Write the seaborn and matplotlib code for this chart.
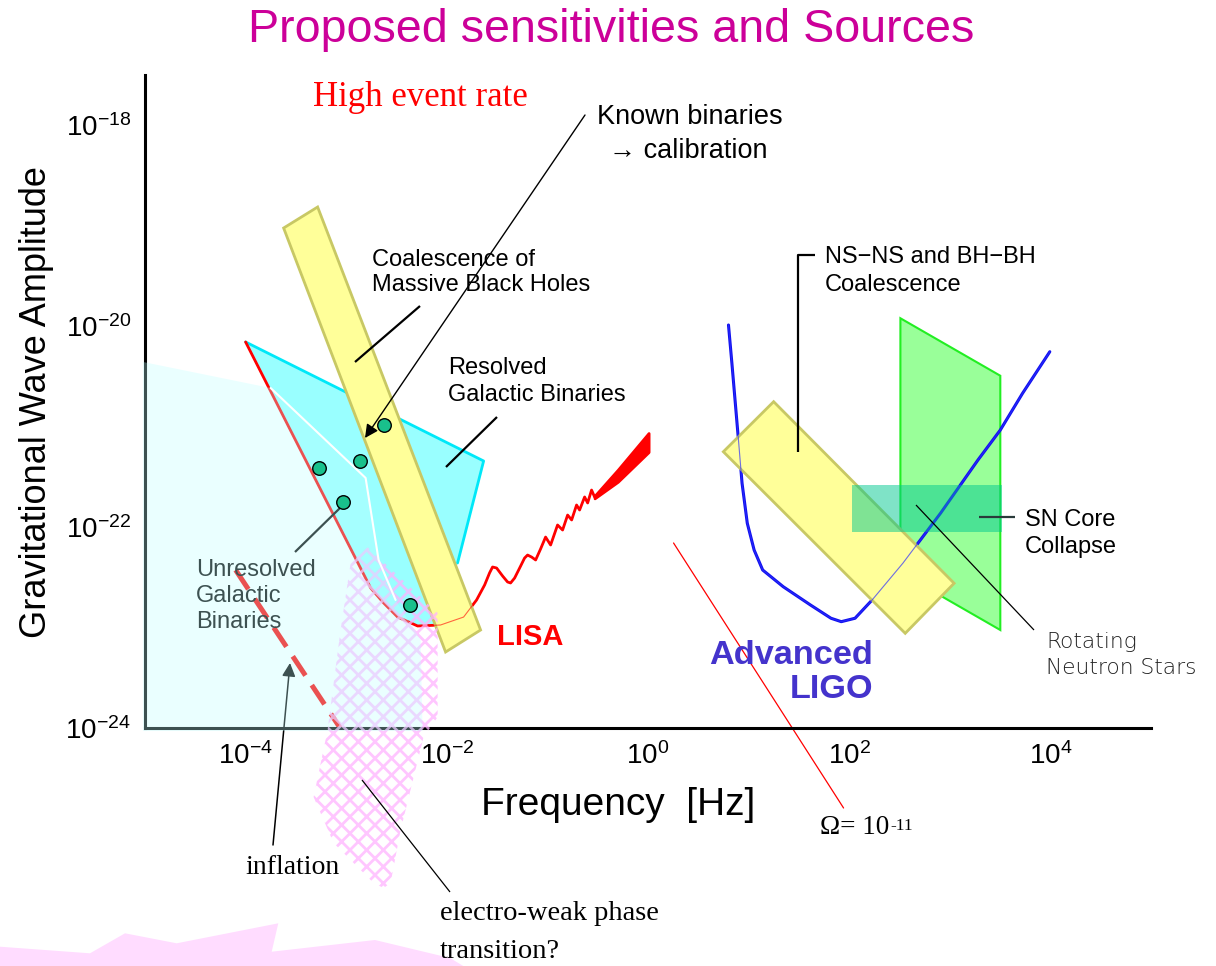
import numpy as np
import pandas as pd
import matplotlib
matplotlib.use("Agg")
import matplotlib.pyplot as plt
import matplotlib.transforms as mtransforms
from matplotlib.patches import Polygon
import seaborn as sns

# ---------------------------------------------------------------
# Values are log10(frequency / Hz) and log10(strain amplitude)
# ---------------------------------------------------------------
# LISA sensitivity curve (resolved wiggles up to ~0.3 Hz)
lisa_logf = [-4.000, -2.757, -2.628, -2.489, -2.290, -2.062, -1.833, -1.704,
             -1.624, -1.575, -1.545, -1.505, -1.445, -1.396, -1.366, -1.326,
             -1.266, -1.227, -1.197, -1.157, -1.117, -1.068, -1.018, -0.968,
             -0.899, -0.849, -0.799, -0.759, -0.710, -0.680, -0.630, -0.600,
             -0.561, -0.531]
lisa_logh = [-20.159, -22.607, -22.756, -22.896, -22.985, -22.975, -22.896, -22.726,
             -22.577, -22.457, -22.398, -22.408, -22.488, -22.547, -22.557, -22.508,
             -22.388, -22.309, -22.279, -22.299, -22.328, -22.219, -22.100, -22.179,
             -21.980, -22.030, -21.881, -21.930, -21.781, -21.831, -21.701, -21.761,
             -21.632, -21.701]
# unresolved dense wiggles near 1 Hz, shown as an envelope
lisa_env_logf = [-0.531, -0.300, 0.006]
lisa_env_upper = [-21.690, -21.430, -21.065]
lisa_env_lower = [-21.715, -21.550, -21.254]

# Advanced LIGO sensitivity curve
ligo_logf = [0.800, 0.834, 0.868, 0.902, 0.935, 0.987, 1.055, 1.140, 1.344, 1.615,
             1.819, 1.921, 2.058, 2.228, 2.533, 2.907, 3.280, 3.502, 3.723, 3.994]
ligo_logh = [-19.990, -20.371, -20.769, -21.167, -21.565, -21.963, -22.229, -22.428,
             -22.594, -22.776, -22.908, -22.942, -22.908, -22.726, -22.361, -21.864,
             -21.333, -21.035, -20.670, -20.256]

# Source regions (polygon corners)
resolved_logf = [-4.000, -1.634, -1.893, -1.982, -2.062, -2.290, -2.489, -2.628, -2.757]
resolved_logh = [-20.159, -21.343, -22.358, -22.776, -22.975, -22.985, -22.896, -22.756, -22.607]
resolved_edge_logf = [-4.000, -1.634, -1.893]
resolved_edge_logh = [-20.159, -21.343, -22.358]

unresolved_logf = [-5.02, -3.751, -2.807, -2.678, -2.509, -2.260, -2.241, -5.02]
unresolved_logh = [-20.358, -20.617, -21.512, -22.328, -22.726, -23.124, -24.03, -24.03]
unresolved_edge_logf = [-3.751, -2.807, -2.678, -2.509]
unresolved_edge_logh = [-20.617, -21.512, -22.328, -22.726]

mbh_logf = [-3.622, -3.284, -1.664, -2.012]
mbh_logh = [-19.025, -18.816, -23.025, -23.244]

nsbh_logf = [0.749, 1.249, 3.043, 2.557]
nsbh_logh = [-21.251, -20.753, -22.560, -23.058]

rot_ns_logf = [2.509, 3.502, 3.502, 2.509]
rot_ns_logh = [-19.923, -20.495, -23.025, -22.454]

sn_logf = [2.024, 3.519]
sn_logh = [-22.047, -21.582]

ew_logf = [-2.787, -2.091, -2.091, -2.231, -2.459, -2.559, -2.628, -2.728, -3.125,
           -3.324, -3.185, -3.056, -2.956]
ew_logh = [-22.201, -22.856, -23.891, -24.090, -25.015, -25.542, -25.592, -25.542,
           -25.144, -24.687, -24.020, -23.025, -22.358]

# known (verification) binaries
known_logf = [-3.274, -3.036, -2.867, -2.628, -2.370]
known_logh = [-21.413, -21.751, -21.343, -20.985, -22.776]

# inflation background and the Omega = 1e-11 line
inflation_logf = [-4.099, -3.06]
inflation_logh = [-22.428, -24.0]
omega_logf = [0.254, 1.944]
omega_logh = [-22.159, -24.796]

# axis ticks
xtick_exp = [-4, -3, -2, -1, 0, 1, 2, 3, 4]
xtick_labels = [r"$10^{-4}$", "", r"$10^{-2}$", "", r"$10^{0}$", "", r"$10^{2}$", "", r"$10^{4}$"]
ytick_exp = [-24, -23, -22, -21, -20, -19, -18]
ytick_labels = [r"$10^{-24}$", "", r"$10^{-22}$", "", r"$10^{-20}$", "", r"$10^{-18}$"]


def pts(lf, lh):
    return np.column_stack([10.0 ** np.asarray(lf), 10.0 ** np.asarray(lh)])


sns.set_theme(style="white")
plt.rcParams.update({
    "font.family": ["Liberation Sans", "DejaVu Sans"],
    "mathtext.fontset": "custom",
    "mathtext.rm": "Liberation Sans",
    "mathtext.it": "Liberation Sans:italic",
    "mathtext.bf": "Liberation Sans:bold",
    "hatch.linewidth": 2.0,
    "text.color": "black",
    "axes.labelcolor": "black",
    "xtick.color": "black",
    "ytick.color": "black",
})

W, H = 1216, 966
fig = plt.figure(figsize=(W / 100, H / 100), dpi=100)
fig.patch.set_facecolor("white")
ax = fig.add_axes([145 / W, (H - 728) / H, 1006 / W, 653.25 / H])
ax.set_facecolor("white")
ax.set_xscale("log")
ax.set_yscale("log")
ax.set_xlim(1e-5, 1e5)
ax.set_ylim(1e-24, 10 ** -17.5)

# pixel-based transform (origin top-left) for labels and leader lines
PX = mtransforms.Affine2D().scale(1 / W, -1 / H).translate(0, 1) + fig.transFigure

SERIF = ["Liberation Serif", "DejaVu Serif"]


def note(x, y, s, **kw):
    kw.setdefault("va", "center")
    kw.setdefault("ha", "left")
    kw.setdefault("zorder", 5)
    kw.setdefault("color", "black")
    return ax.text(x, y, s, transform=PX, clip_on=False, **kw)


def leader(xs, ys, **kw):
    kw.setdefault("color", "black")
    kw.setdefault("lw", 1.5)
    kw.setdefault("zorder", 4)
    kw.setdefault("solid_capstyle", "butt")
    ax.plot(xs, ys, transform=PX, clip_on=False, **kw)


# ---------------- low-frequency (LISA) side ----------------
ax.add_patch(Polygon(pts(resolved_logf, resolved_logh), closed=True,
                     fc=(0.0, 1.0, 1.0, 0.4), lw=0, zorder=1))
ax.plot(*pts(resolved_edge_logf, resolved_edge_logh).T, color="#00e8f8", lw=2, zorder=1.2)

lisa = pd.DataFrame({"f": 10.0 ** np.array(lisa_logf), "h": 10.0 ** np.array(lisa_logh)})
sns.lineplot(data=lisa, x="f", y="h", sort=False, estimator=None, color="red",
             lw=2, ax=ax, zorder=1.5)
ax.fill_between(10.0 ** np.array(lisa_env_logf), 10.0 ** np.array(lisa_env_lower),
                10.0 ** np.array(lisa_env_upper), color="red", lw=2, zorder=1.5)

ax.add_patch(Polygon(pts(mbh_logf, mbh_logh), closed=True, fc="#ffff99",
                     ec="#c8c864", lw=2, zorder=1.8))
sns.lineplot(data=lisa, x="f", y="h", sort=False, estimator=None, color="red",
             lw=0.8, alpha=0.6, ax=ax, zorder=2.0)

# inflation background
ax.plot(10.0 ** np.array(inflation_logf), 10.0 ** np.array(inflation_logh),
        color="red", lw=3.6, dashes=(4.6, 2.3), solid_capstyle="butt",
        dash_capstyle="butt", zorder=2.2)

# ---------------- high-frequency (LIGO) side ----------------
ax.add_patch(Polygon(pts(rot_ns_logf, rot_ns_logh), closed=True, fc="#99ff99",
                     ec="#22ee22", lw=1.5, zorder=1))
ligo = pd.DataFrame({"f": 10.0 ** np.array(ligo_logf), "h": 10.0 ** np.array(ligo_logh)})
sns.lineplot(data=ligo, x="f", y="h", sort=False, estimator=None, color="#1010ee",
             lw=2.2, ax=ax, zorder=1.5)
ax.add_patch(Polygon(pts(nsbh_logf, nsbh_logh), closed=True, fc="#ffff99",
                     ec="#c8c864", lw=2, zorder=1.8))
ax.fill_between(10.0 ** np.array(sn_logf), 10.0 ** sn_logh[0], 10.0 ** sn_logh[1],
                color="#00c890", alpha=0.5, lw=0, zorder=1.9)
sns.lineplot(data=ligo, x="f", y="h", sort=False, estimator=None, color="#3030ff",
             lw=0.8, alpha=0.7, ax=ax, zorder=2.0)

ax.plot(10.0 ** np.array(omega_logf), 10.0 ** np.array(omega_logh), color="red",
        lw=0.9, clip_on=False, zorder=2.2)

# ---------------- axes styling ----------------
ax.set_xticks([10.0 ** e for e in xtick_exp], labels=xtick_labels)
ax.set_yticks([10.0 ** e for e in ytick_exp], labels=ytick_labels)
ax.xaxis.set_minor_locator(matplotlib.ticker.NullLocator())
ax.yaxis.set_minor_locator(matplotlib.ticker.NullLocator())
ax.tick_params(direction="in", length=13, width=2.2, pad=10, labelsize=20,
               colors="black")
ax.set_axisbelow(False)
for side in ["top", "right"]:
    ax.spines[side].set_visible(False)
for side in ["left", "bottom"]:
    ax.spines[side].set_linewidth(2.2)
    ax.spines[side].set_color("black")

ax.set_xlabel("Frequency  [Hz]", fontsize=28, color="black", va="center")
ax.xaxis.set_label_coords((618.5 - 145) / 1006, (728 - 805) / 653.25)
ax.set_ylabel("Gravitational Wave Amplitude", fontsize=26, color="black", va="center")
ax.yaxis.set_label_coords((37 - 145) / 1006, (728 - 402) / 653.25)

# ---------------- annotations under the pale overlay ----------------
note(196, 570, "Unresolved", fontsize=17, zorder=2.3)
note(196, 596, "Galactic", fontsize=17, zorder=2.3)
note(196, 622, "Binaries", fontsize=17, zorder=2.3)
leader([295, 340], [552, 508], lw=1.6, zorder=2.3)
ax.annotate("", xy=(290, 663), xytext=(273, 845), xycoords=PX, textcoords=PX,
            arrowprops=dict(arrowstyle="-|>", color="black", lw=1.1,
                            mutation_scale=20, shrinkA=0, shrinkB=0),
            zorder=2.3, annotation_clip=False)

# electro-weak phase transition region (checkered)
ax.add_patch(Polygon(pts(ew_logf, ew_logh), closed=True, fc="none",
                     ec=(1.0, 0.70, 1.0, 0.75), lw=0, hatch="xx",
                     zorder=2.7, clip_on=False))

# pale veil of the unresolved galactic foreground
ax.add_patch(Polygon(pts(unresolved_logf, unresolved_logh), closed=True,
                     fc=(0.75, 1.0, 1.0, 0.32), lw=0, zorder=3, clip_on=False))
ax.plot(*pts(unresolved_edge_logf, unresolved_edge_logh).T, color="white",
        lw=1.5, zorder=3.1)

sns.scatterplot(x=10.0 ** np.array(known_logf), y=10.0 ** np.array(known_logh),
                s=95, color="#19c08c", edgecolor="black", linewidth=1,
                marker="o", ax=ax, zorder=4)

# ---------------- labels and leader lines ----------------
fig.text(611 / W, 1 - 30 / H, "Proposed sensitivities and Sources",
         ha="center", va="center", fontsize=33.6, color="#cc0099")

note(313, 98, "High event rate", fontsize=25, color="red", family=SERIF)
note(690, 117, "Known binaries", fontsize=19.5, ha="center")
note(688, 151, "\u2192 calibration", fontsize=19.5, ha="center")
ax.annotate("", xy=(365, 438), xytext=(585, 115), xycoords=PX, textcoords=PX,
            arrowprops=dict(arrowstyle="-|>", color="black", lw=1.0,
                            mutation_scale=20, shrinkA=0, shrinkB=0),
            zorder=4, annotation_clip=False)

note(372, 260, "Coalescence of", fontsize=17)
note(372, 285, "Massive Black Holes", fontsize=17)
leader([355, 420], [362, 306], lw=1.6)

note(448, 368, "Resolved", fontsize=17)
note(448, 395, "Galactic Binaries", fontsize=17)
leader([446, 497], [467, 417], lw=1.6)

note(497, 637, "LISA", fontsize=21, fontweight="bold", color="red")

note(825, 257, "NS\u2212NS and BH\u2212BH", fontsize=17)
note(825, 285, "Coalescence", fontsize=17)
leader([815, 798, 798], [255, 255, 452], lw=1.6)

note(1025, 520, "SN Core", fontsize=17)
note(1025, 547, "Collapse", fontsize=17)
leader([979, 1015], [517, 517], lw=1.6, color="#2a3a3a")

note(1046, 642, "Rotating", fontsize=15.7, color="#222222",
     family=["DejaVu Sans"], fontweight="light")
note(1046, 668, "Neutron Stars", fontsize=15.7, color="#222222",
     family=["DejaVu Sans"], fontweight="light")
leader([916, 1034], [505, 630], lw=0.9)

note(709, 655, "Advanced", fontsize=24.7, fontweight="bold", color="#4433cc")
note(873, 690, "LIGO", fontsize=24.7, fontweight="bold", color="#4433cc", ha="right")

om = note(820, 828, "\u03a9= 10", fontsize=19.5, family=SERIF)
ax.annotate("-11", xy=(1, 0.92), xycoords=om, xytext=(1, 0), textcoords="offset points",
            ha="left", va="top", fontsize=12.5, family=SERIF, color="black",
            annotation_clip=False)

note(245, 868, "inflation", fontsize=20, family=SERIF)
leader([362, 450], [780, 892], lw=0.9)
note(440, 913, "electro-weak phase", fontsize=20.5, family=SERIF)
note(440, 951, "transition?", fontsize=20.5, family=SERIF)

# pink burst at the bottom edge
burst = Polygon([(0, 946.7), (90, 953.3), (125, 933.3), (176.7, 943.3), (278.3, 923.3),
                 (271.7, 951.7), (375, 940), (450, 958), (470, 970), (0, 970)],
                closed=True, transform=PX, fc="#ffdcff", lw=0, zorder=0.5, clip_on=False)
ax.add_patch(burst)

fig.savefig("out.png", dpi=100, facecolor="white")
